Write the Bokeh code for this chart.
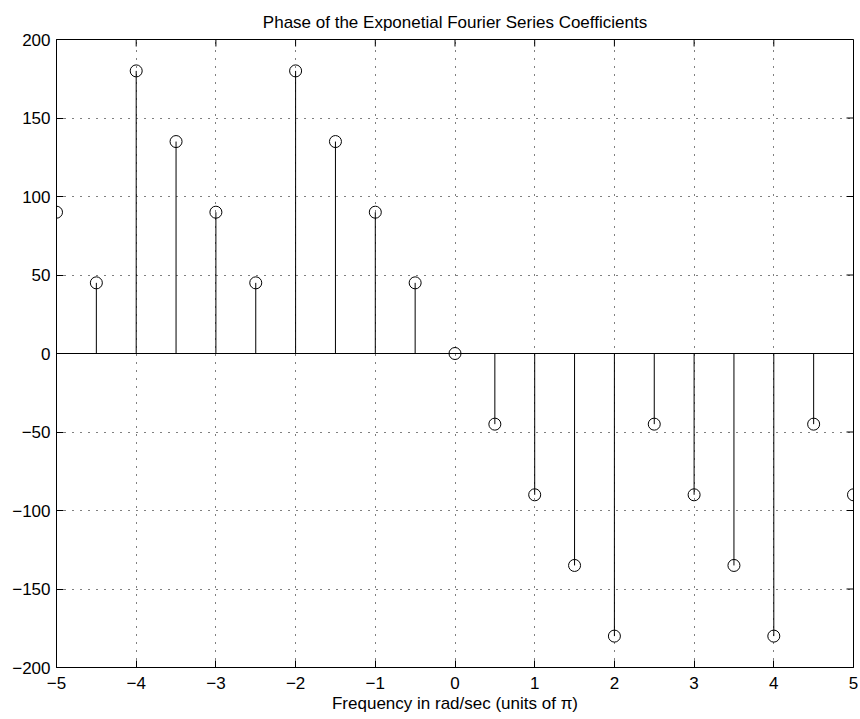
from bokeh.plotting import figure
from bokeh.models import Range1d, FixedTicker, Span
from bokeh.embed import file_html
from bokeh.resources import INLINE

freq = [-5, -4.5, -4, -3.5, -3, -2.5, -2, -1.5, -1, -0.5, 0,
        0.5, 1, 1.5, 2, 2.5, 3, 3.5, 4, 4.5, 5]
phase = [90, 45, 180, 135, 90, 45, 180, 135, 90, 45, 0,
         -45, -90, -135, -180, -45, -90, -135, -180, -45, -90]
xticks = [-5, -4, -3, -2, -1, 0, 1, 2, 3, 4, 5]
yticks = [-200, -150, -100, -50, 0, 50, 100, 150, 200]

FONT = "Liberation Sans"
X0, X1, Y0, Y1 = -5, 5, -200, 200

p = figure(width=860, height=719, output_backend="svg", toolbar_location=None,
           x_range=Range1d(X0, X1), y_range=Range1d(Y0, Y1),
           min_border_left=56, min_border_right=7, min_border_top=39, min_border_bottom=52,
           title="Phase of the Exponetial Fourier Series Coefficients")
p.title.align = "center"
p.title.text_font = FONT
p.title.text_font_size = "17px"
p.title.text_font_style = "normal"
p.title.text_color = "black"
p.title.offset = 0
p.title.standoff = 15

p.outline_line_color = "black"
p.outline_line_width = 1
p.background_fill_color = "white"
p.border_fill_color = "white"

for ax in (p.xaxis[0], p.yaxis[0]):
    ax.major_label_text_font = FONT
    ax.major_label_text_font_size = "17px"
    ax.major_label_text_color = "black"
    ax.major_tick_in = 7
    ax.major_tick_out = 0
    ax.minor_tick_line_color = None
    ax.axis_line_color = "black"
    ax.major_tick_line_color = "black"
p.xaxis[0].ticker = FixedTicker(ticks=xticks)
p.yaxis[0].ticker = FixedTicker(ticks=yticks)
p.xaxis[0].major_label_overrides = {t: str(t).replace("-", "\u2212") for t in xticks}
p.yaxis[0].major_label_overrides = {t: str(t).replace("-", "\u2212") for t in yticks}
p.xaxis[0].major_label_standoff = 9
p.yaxis[0].major_label_standoff = 6
p.xaxis[0].axis_label = "Frequency in rad/sec (units of \u03c0)"
p.xaxis[0].axis_label_text_font = FONT
p.xaxis[0].axis_label_text_font_size = "17px"
p.xaxis[0].axis_label_text_font_style = "normal"
p.xaxis[0].axis_label_text_color = "black"
p.xaxis[0].axis_label_standoff = 2

p.xgrid.ticker = FixedTicker(ticks=xticks)
p.ygrid.ticker = FixedTicker(ticks=yticks)
for g in (p.xgrid[0], p.ygrid[0]):
    g.grid_line_color = "black"
    g.grid_line_dash = "1 7"
    g.grid_line_width = 1

# inward tick marks on the top and right edges of the box (7 px long)
frame_w, frame_h = 797.0, 628.0
ty = 7 * (Y1 - Y0) / frame_h
tx = 7 * (X1 - X0) / frame_w
p.segment(x0=xticks, y0=[Y1] * len(xticks), x1=xticks, y1=[Y1 - ty] * len(xticks),
          line_color="black", line_width=1)
p.segment(x0=[X1] * len(yticks), y0=yticks, x1=[X1 - tx] * len(yticks), y1=yticks,
          line_color="black", line_width=1)

p.add_layout(Span(location=0, dimension="width", line_color="black", line_width=1))
p.segment(x0=freq, y0=[0] * len(freq), x1=freq, y1=phase, line_color="black", line_width=1)
p.scatter(freq, phase, marker="circle", size=12, fill_color=None, line_color="black", line_width=1)

open("out.html", "w").write(file_html(p, INLINE))
